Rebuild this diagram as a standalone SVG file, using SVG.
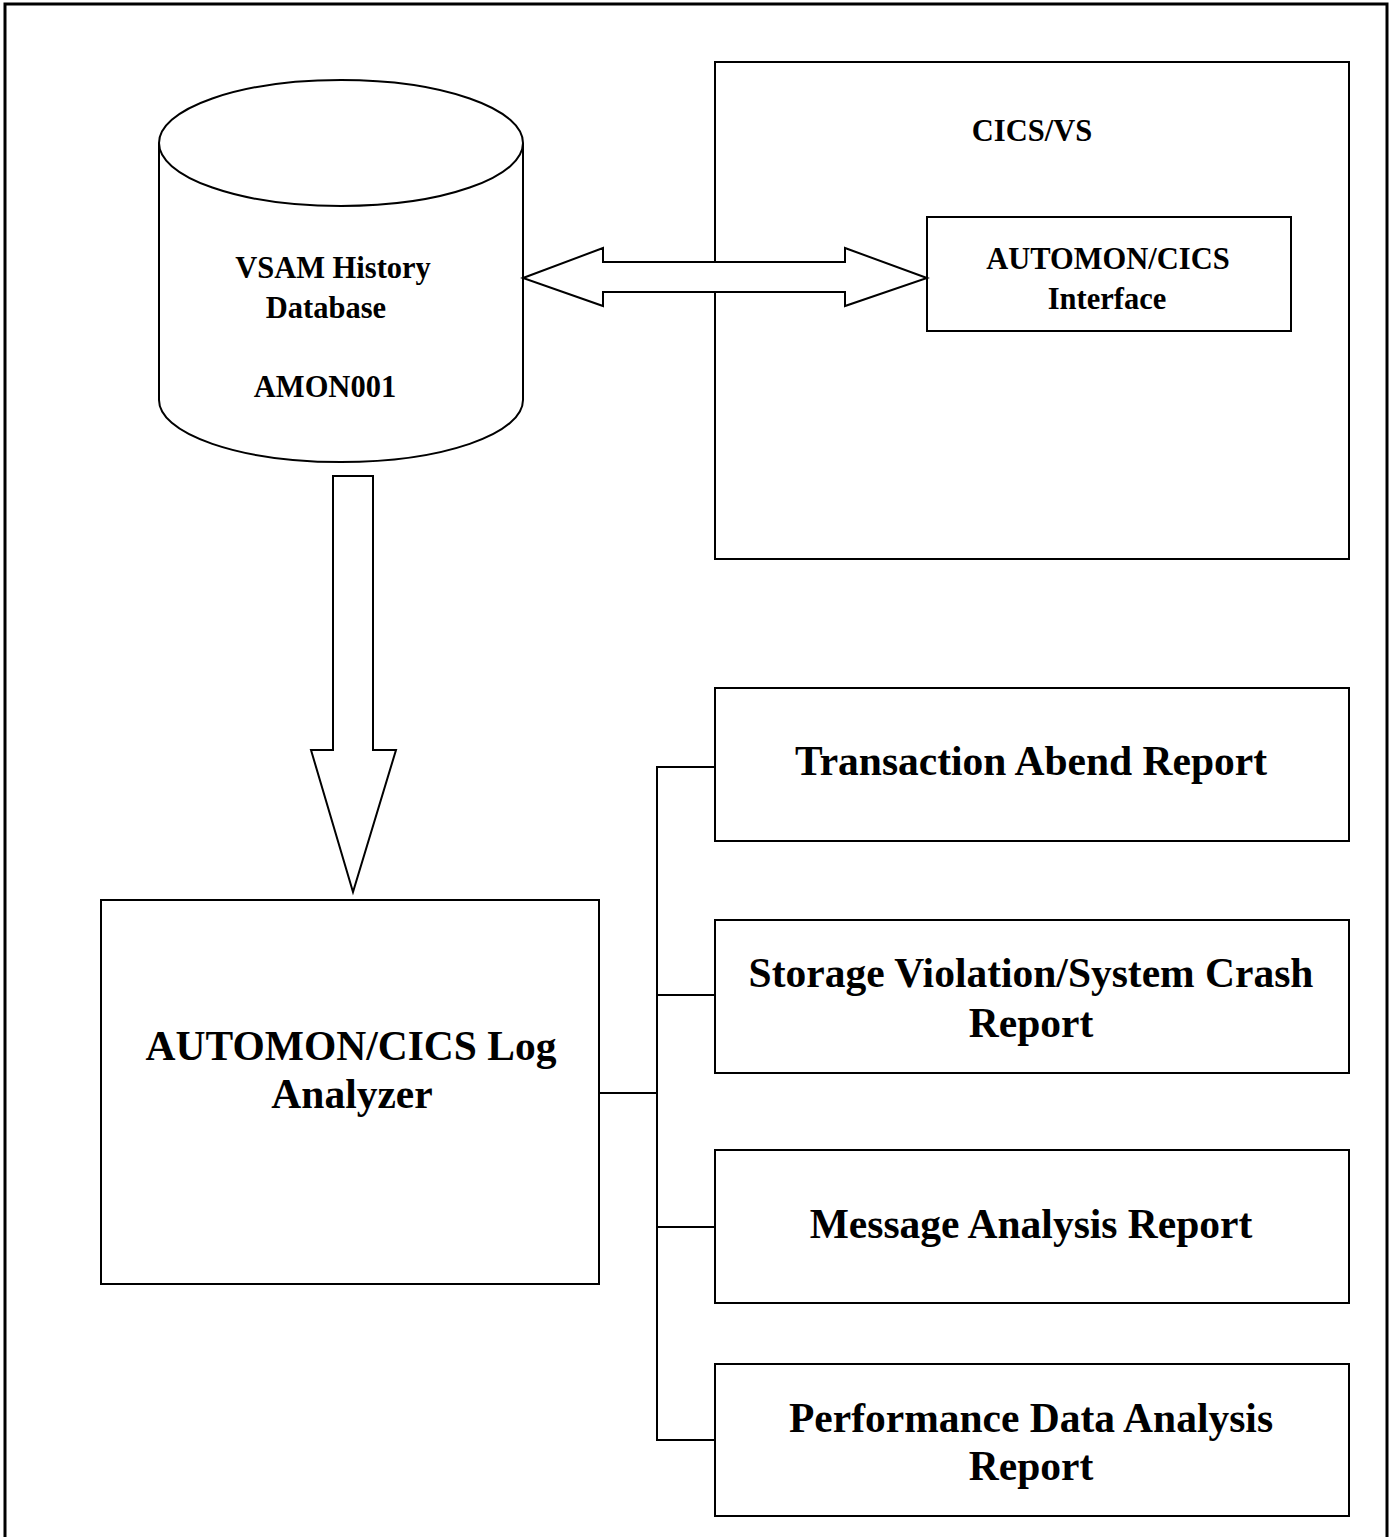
<svg xmlns="http://www.w3.org/2000/svg" width="1393" height="1537" viewBox="0 0 1393 1537">
<style>
.s{fill:#fff;stroke:#000;stroke-width:2}
.l{fill:none;stroke:#000;stroke-width:2}
.t{font-family:"Liberation Serif","Times New Roman",serif;font-weight:bold;fill:#000;text-anchor:middle}
.sm{font-size:30.5px}
.lg{font-size:41.5px}
</style>
<rect width="1393" height="1537" fill="#fff"/>
<rect id="frame" x="5" y="4" width="1382" height="1560" fill="none" stroke="#000" stroke-width="3"/>
<g id="cics">
<rect class="s" x="715" y="62" width="634" height="497"/>
<text class="t sm" x="1032" y="141">CICS/VS</text>
</g>
<g id="db">
<path class="s" d="M159,143 L159,400 A182,62 0 0 0 523,400 L523,143"/>
<ellipse class="s" cx="341" cy="143" rx="182" ry="63"/>
<text class="t sm" x="333" y="278">VSAM History</text>
<text class="t sm" x="326" y="318">Database</text>
<text class="t sm" x="325" y="397">AMON001</text>
</g>
<g id="iface">
<rect class="s" x="927" y="217" width="364" height="114"/>
<text class="t sm" x="1108" y="269">AUTOMON/CICS</text>
<text class="t sm" x="1107" y="309">Interface</text>
</g>
<g id="analyzer">
<rect class="s" x="101" y="900" width="498" height="384"/>
<text class="t lg" x="351" y="1060">AUTOMON/CICS Log</text>
<text class="t lg" x="352" y="1108">Analyzer</text>
</g>
<g id="r1">
<rect class="s" x="715" y="688" width="634" height="153"/>
<text class="t lg" x="1031" y="775">Transaction Abend Report</text>
</g>
<g id="r2">
<rect class="s" x="715" y="920" width="634" height="153"/>
<text class="t lg" x="1031" y="987">Storage Violation/System Crash</text>
<text class="t lg" x="1031" y="1037">Report</text>
</g>
<g id="r3">
<rect class="s" x="715" y="1150" width="634" height="153"/>
<text class="t lg" x="1031" y="1238">Message Analysis Report</text>
</g>
<g id="r4">
<rect class="s" x="715" y="1364" width="634" height="152"/>
<text class="t lg" x="1031" y="1432">Performance Data Analysis</text>
<text class="t lg" x="1031" y="1480">Report</text>
</g>
<g id="connectors">
<polygon class="s" points="523,278 603,248 603,262 845,262 845,248 927,278 845,306 845,292 603,292 603,306"/>
<polygon class="s" points="333,476 373,476 373,750 396,750 353,892 311,750 333,750"/>
<polyline class="l" points="599,1093 657,1093"/>
<polyline class="l" points="715,767 657,767 657,1440 715,1440"/>
<polyline class="l" points="657,995 715,995"/>
<polyline class="l" points="657,1227 715,1227"/>
</g>
</svg>
